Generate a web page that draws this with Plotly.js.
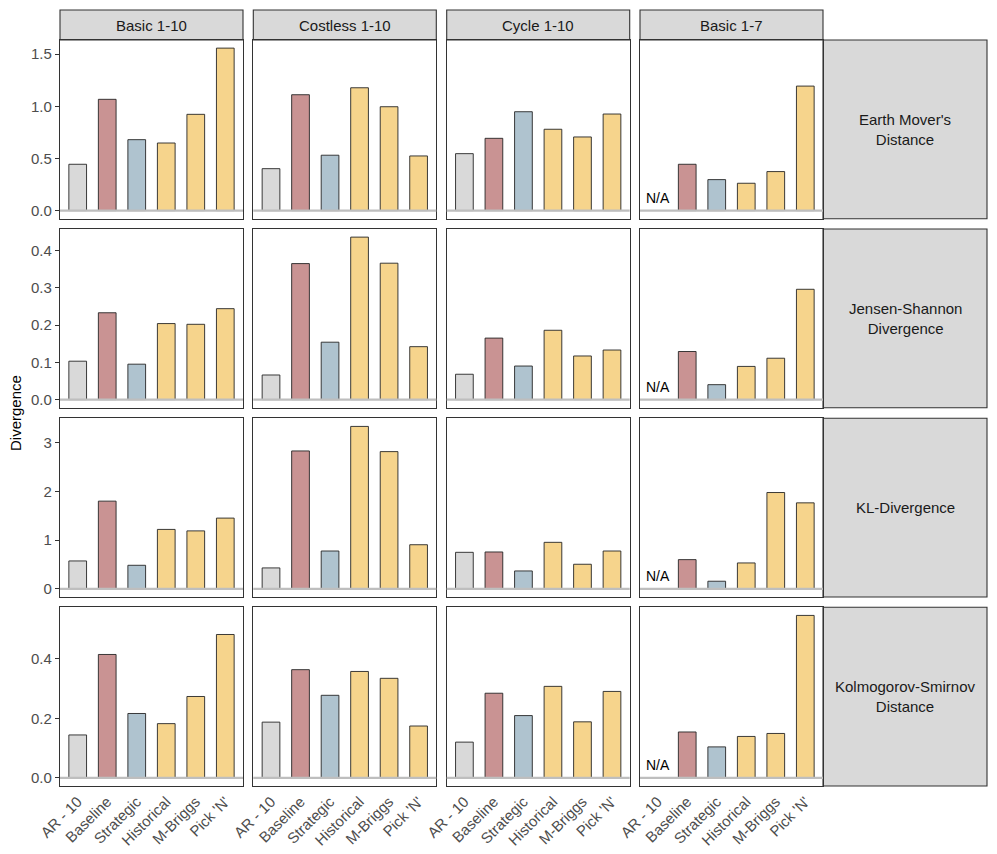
<!DOCTYPE html>
<html>
<head>
<meta charset="utf-8">
<script src="https://cdn.plot.ly/plotly-3.0.1.min.js"></script>
<style>html,body{margin:0;padding:0;background:#fff;}#chart{width:997px;height:854px;}</style>
</head>
<body>
<div id="chart"></div>
<script>
const categories = ["AR - 10", "Baseline", "Strategic", "Historical", "M-Briggs", "Pick 'N'"];
const datasets = ["Basic 1-10", "Costless 1-10", "Cycle 1-10", "Basic 1-7"];
const metrics = ["Earth Mover's<br>Distance", "Jensen-Shannon<br>Divergence", "KL-Divergence", "Kolmogorov-Smirnov<br>Distance"];

// values per dataset (Basic 1-10, Costless 1-10, Cycle 1-10, Basic 1-7), in category order
const emd = [
  [0.444, 1.067, 0.680, 0.648, 0.923, 1.558],
  [0.402, 1.111, 0.531, 1.178, 0.996, 0.524],
  [0.546, 0.693, 0.948, 0.780, 0.706, 0.926],
  [null, 0.444, 0.297, 0.262, 0.374, 1.194]
];
const jsd = [
  [0.103, 0.233, 0.095, 0.204, 0.202, 0.244],
  [0.066, 0.365, 0.154, 0.436, 0.366, 0.142],
  [0.068, 0.165, 0.090, 0.186, 0.117, 0.133],
  [null, 0.129, 0.040, 0.089, 0.111, 0.296]
];
const kl = [
  [0.573, 1.800, 0.484, 1.220, 1.190, 1.452],
  [0.430, 2.830, 0.777, 3.333, 2.816, 0.906],
  [0.750, 0.757, 0.368, 0.955, 0.505, 0.777],
  [null, 0.600, 0.157, 0.532, 1.977, 1.765]
];
const ks = [
  [0.144, 0.414, 0.216, 0.182, 0.273, 0.481],
  [0.187, 0.363, 0.277, 0.357, 0.334, 0.174],
  [0.120, 0.284, 0.209, 0.307, 0.188, 0.290],
  [null, 0.154, 0.104, 0.139, 0.149, 0.545]
];
const barColors = ["#d9d9d9", "#c99393", "#afc3cf", "#f6d48c", "#f6d48c", "#f6d48c"];
const yDticks = [0.5, 0.1, 1, 0.2];
const yFormats = [".1f", ".1f", "d", ".1f"];

const rowsData = [emd, jsd, kl, ks];
const W = 997, H = 854;
const colPx = [[60, 243], [253.3, 436.3], [446.7, 629.7], [640, 823]];
const rowPx = [[40, 218.7], [229, 407.7], [418.3, 597], [607.3, 786]];
const stripTop = [10, 40];
const rightStrip = [823, 987];
const px = v => v / W;
const py = v => 1 - v / H;

const FONT = "Liberation Sans, Arial, sans-serif";
const traces = [];
const layout = {
  width: W, height: H,
  margin: {l: 0, r: 0, t: 0, b: 0},
  paper_bgcolor: "#ffffff",
  plot_bgcolor: "#ffffff",
  showlegend: false,
  font: {family: FONT, size: 15, color: "#4d4d4d"},
  shapes: [],
  annotations: []
};

for (let r = 0; r < 4; r++) {
  const rowData = rowsData[r];
  let mx = 0;
  rowData.forEach(a => a.forEach(v => { if (v !== null && v > mx) mx = v; }));
  const yRange = [-0.05 * mx, 1.05 * mx];
  for (let c = 0; c < 4; c++) {
    const idx = r * 4 + c + 1;
    const xa = "x" + idx, ya = "y" + idx;
    traces.push({
      type: "bar",
      x: categories,
      y: rowData[c],
      xaxis: xa, yaxis: ya,
      width: 0.6,
      marker: {color: barColors, line: {color: "#262626", width: 0.9}},
      hoverinfo: "x+y"
    });
    layout["xaxis" + idx] = {
      domain: [px(colPx[c][0]), px(colPx[c][1])],
      anchor: ya,
      type: "category",
      categoryorder: "array",
      categoryarray: categories,
      range: [-0.6, 5.6],
      showgrid: false, zeroline: false,
      showline: true, mirror: true, linecolor: "#333333", linewidth: 1.1,
      ticks: "",
      showticklabels: r === 3,
      tickangle: -45,
      tickfont: {family: FONT, size: 15, color: "#4d4d4d"},
      automargin: false,
      fixedrange: true
    };
    layout["yaxis" + idx] = {
      domain: [py(rowPx[r][1]), py(rowPx[r][0])],
      anchor: xa,
      range: yRange,
      showgrid: false, zeroline: false,
      showline: true, mirror: true, linecolor: "#333333", linewidth: 1.1,
      ticks: c === 0 ? "outside" : "",
      ticklen: 4, tickwidth: 1.1, tickcolor: "#333333",
      showticklabels: c === 0,
      dtick: yDticks[r], tick0: 0,
      tickformat: yFormats[r],
      tickfont: {family: FONT, size: 15, color: "#4d4d4d"},
      automargin: false,
      fixedrange: true
    };
    // zero reference line
    layout.shapes.push({
      type: "line", xref: xa + " domain", yref: ya,
      x0: 0, x1: 1, y0: 0, y1: 0,
      line: {color: "#bebebe", width: 2.2}, layer: "above"
    });
    // N/A marker for missing values
    rowData[c].forEach((v, i) => {
      if (v === null) {
        layout.annotations.push({
          xref: xa, yref: ya, x: categories[i], y: 0,
          text: "N/A", showarrow: false,
          yanchor: "bottom", yshift: 3,
          font: {family: FONT, size: 14, color: "#000000"}
        });
      }
    });
  }
  // right strip
  layout.shapes.push({
    type: "rect", xref: "paper", yref: "paper",
    x0: px(rightStrip[0]), x1: px(rightStrip[1]),
    y0: py(rowPx[r][1]), y1: py(rowPx[r][0]),
    fillcolor: "#d9d9d9", line: {color: "#333333", width: 1.1}, layer: "below"
  });
  layout.annotations.push({
    xref: "paper", yref: "paper",
    x: px((rightStrip[0] + rightStrip[1]) / 2),
    y: py((rowPx[r][0] + rowPx[r][1]) / 2),
    text: metrics[r], showarrow: false,
    xanchor: "center", yanchor: "middle", align: "center",
    font: {family: FONT, size: 15, color: "#1a1a1a"}
  });
}

// top strips
for (let c = 0; c < 4; c++) {
  layout.shapes.push({
    type: "rect", xref: "paper", yref: "paper",
    x0: px(colPx[c][0]), x1: px(colPx[c][1]),
    y0: py(stripTop[1]), y1: py(stripTop[0]),
    fillcolor: "#d9d9d9", line: {color: "#333333", width: 1.1}, layer: "below"
  });
  layout.annotations.push({
    xref: "paper", yref: "paper",
    x: px((colPx[c][0] + colPx[c][1]) / 2),
    y: py((stripTop[0] + stripTop[1]) / 2),
    text: datasets[c], showarrow: false,
    xanchor: "center", yanchor: "middle",
    font: {family: FONT, size: 15, color: "#1a1a1a"}
  });
}

// shared y-axis title
layout.annotations.push({
  xref: "paper", yref: "paper",
  x: px(15), y: py((rowPx[0][0] + rowPx[3][1]) / 2),
  text: "Divergence", showarrow: false, textangle: -90,
  xanchor: "center", yanchor: "middle",
  font: {family: FONT, size: 15, color: "#000000"}
});

Plotly.newPlot("chart", traces, layout, {displayModeBar: false, staticPlot: true});
</script>
</body>
</html>
